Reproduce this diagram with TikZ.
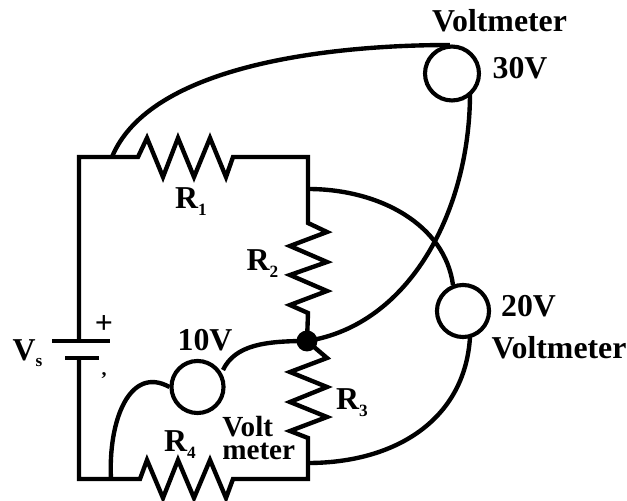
\documentclass[tikz,border=0pt]{standalone}
\usepackage{fontspec}
\setmainfont{Liberation Serif}
\usetikzlibrary{calc}
\newcommand{\lowsub}[1]{\smash{\raisebox{-5pt}{\fontsize{13}{14}\selectfont #1}}}
\tikzset{
    wire/.style = {line width=3.3pt, line join=miter},
    meter/.style = {circle, draw, line width=3.1pt, minimum size=1.38cm, inner sep=0pt},
    lbl/.style = {font=\bfseries\fontsize{24}{25}\selectfont, inner sep=0pt, align=center}
}
\begin{document}
\begin{tikzpicture}[x=0.0265cm, y=-0.0265cm]
    \useasboundingbox (0, 0) rectangle (627, 501);
    % corners of the circuit
    \coordinate (TL) at (79, 157);
    \coordinate (TR) at (308, 157);
    \coordinate (BL) at (79, 479);
    \coordinate (BR) at (308, 479);
    \coordinate (J) at (307, 341);
    \coordinate (T1) at (112, 157);
    \coordinate (T4) at (111, 479);
    \coordinate (T2) at (308, 189);
    \coordinate (T3) at (308, 463);
    % meters
    \node[meter, minimum size=1.43cm] (VA) at (452, 73.5) {};
    \node[meter] (VB) at (463, 311) {};
    \node[meter] (VC) at (197.5, 387) {};
    \fill (J) circle (10.5);
    % resistors
    \draw[wire] (79, 341) -- (TL) -- (T1) -- (138, 157) -- (147, 138) -- (163, 177) -- (178, 138) -- (194, 177) -- (210, 138) -- (226, 177) -- (233, 157) -- (TR) -- (308, 223) -- (327, 232) -- (290, 246) -- (327, 262) -- (290, 275) -- (327, 291) -- (290, 305) -- (308, 313) -- (J);
    \draw[wire] (J) -- (327, 358) -- (290, 372) -- (327, 387) -- (290, 402) -- (327, 417) -- (290, 431) -- (308, 438) -- (BR) -- (233, 479) -- (226, 498) -- (210, 460) -- (194, 498) -- (178, 460) -- (163, 498) -- (147, 460) -- (140, 479) -- (T4) -- (BL) -- (79, 358);
    % battery
    \draw[wire] (52, 341) -- (110, 341);
    \draw[wire] (65, 358) -- (99, 358);
    % meter leads
    \draw[wire] (T1) .. controls (150, 65) and (330, 45) .. (450, 45);
    \draw[wire] (470, 93) .. controls (470, 210) and (410, 325) .. (J);
    \draw[wire] (T2) .. controls (380, 189) and (445, 225) .. (453, 285);
    \draw[wire] (470, 337) .. controls (465, 420) and (395, 463) .. (T3);
    \draw[wire] (223, 370) .. controls (235, 345) and (265, 341) .. (J);
    \draw[wire] (VC.west) .. controls (130, 365) and (108, 420) .. (T4);
    % labels
    \node[lbl] (L1) at (499.5, 21) {Voltmeter};
    \node[lbl] (L2) at (520, 68) {30V};
    \node[lbl] (L3) at (528.5, 306) {20V};
    \node[lbl] (L4) at (559, 348) {Voltmeter};
    \node[lbl] (L5) at (205, 340) {10V};
    \node[lbl, font=\bfseries\fontsize{22}{17}\selectfont, align=left, anchor=west] (L6) at (222, 438) {Volt\\meter};
    \node[lbl] (R1) at (191, 198.5) {R\lowsub{1}};
    \node[lbl] (R2) at (262.5, 260) {R\lowsub{2}};
    \node[lbl] (R3) at (352, 399.5) {R\lowsub{3}};
    \node[lbl] (R4) at (180, 441) {R\lowsub{4}};
    \node[lbl] (Vs) at (27.5, 350) {V\lowsub{s}};
    \node[lbl] (plus) at (104, 325) {+};
    \node[lbl, font=\bfseries\fontsize{15}{16}\selectfont] (minus) at (104, 376) {,};
\end{tikzpicture}
\end{document}
